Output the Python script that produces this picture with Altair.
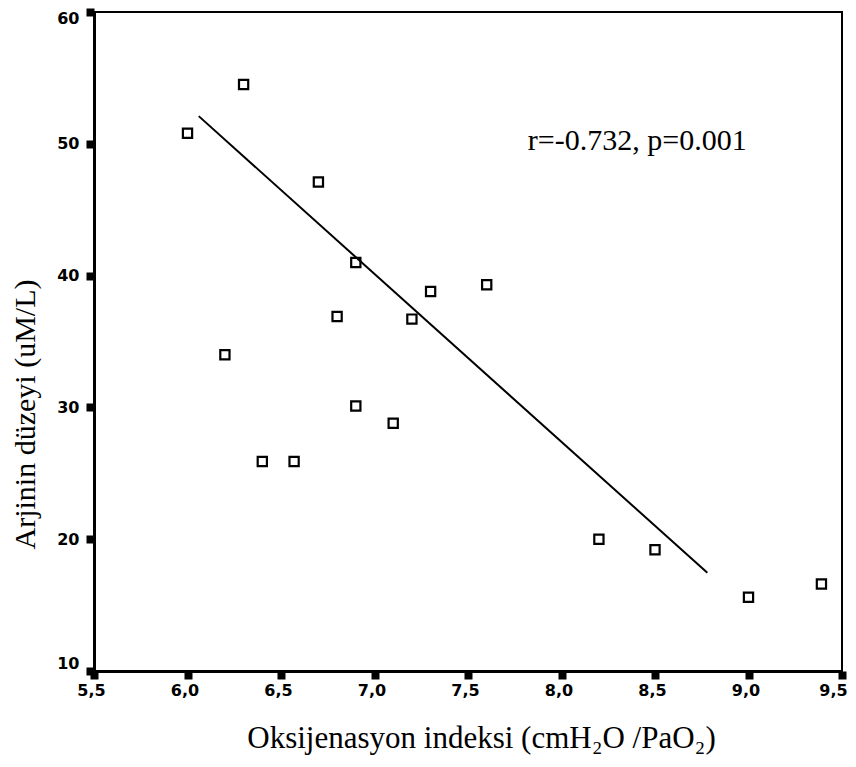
import altair as alt
import pandas as pd

# Scatter data
oksijenasyon = [6.0, 6.3, 6.7, 6.9, 6.8, 7.2, 6.2, 7.3, 7.6, 6.4, 6.57, 6.9, 7.1, 8.2, 8.5, 9.0, 9.39]
arjinin = [50.8, 54.5, 47.1, 41.0, 36.9, 36.7, 34.0, 38.8, 39.3, 25.9, 25.9, 30.1, 28.8, 20.0, 19.2, 15.6, 16.6]

# Fitted line end points
fit_x = [6.06, 8.78]
fit_y = [52.1, 17.45]

# Annotation
annot_x = [7.82]
annot_y = [50.2]
annot_text = ["r=-0.732, p=0.001"]

x_ticks = [5.5, 6.0, 6.5, 7.0, 7.5, 8.0, 8.5, 9.0, 9.5]
y_ticks = [10, 20, 30, 40, 50, 60]

pts = pd.DataFrame({"x": oksijenasyon, "y": arjinin})
fit = pd.DataFrame({"x": fit_x, "y": fit_y})
ann = pd.DataFrame({"x": annot_x, "y": annot_y, "t": annot_text})

xscale = alt.Scale(domain=[5.5, 9.5], nice=False, zero=False)
yscale = alt.Scale(domain=[10, 60], nice=False, zero=False)

xaxis = alt.Axis(
    values=x_ticks,
    labelExpr="replace(format(datum.value, '.1f'), '.', ',')",
    labelFlush=False,
    labelOffset={"condition": {"test": "datum.value === 9.5", "value": -9}, "value": -3},
    title="Oksijenasyon indeksi (cmH₂O /PaO₂)",
    titleX=387, titleY=67, titleBaseline="middle", titleAlign="center",
    titleFont="Liberation Serif", titleFontSize=31, titleFontWeight="normal",
    titleColor="black",
    labelFont="DejaVu Sans", labelFontSize=16, labelFontWeight="bold",
    labelColor="black", labelPadding=3,
    tickSize=8, tickWidth=8, tickColor="black",
    domainColor="black", domainWidth=3, grid=False,
)
yaxis = alt.Axis(
    values=y_ticks,
    format="d",
    title="Arjinin düzeyi (uM/L)",
    titleX=-69, titleY=402, titleAngle=-90, titleBaseline="middle", titleAlign="center",
    titleFont="Liberation Serif", titleFontSize=30, titleFontWeight="normal",
    titleColor="black",
    labelFont="DejaVu Sans", labelFontSize=16, labelFontWeight="bold",
    labelColor="black", labelPadding=7,
    labelBaseline={"condition": {"test": "datum.value === 10", "value": "bottom"}, "value": "middle"},
    labelOffset={"condition": {"test": "datum.value === 60", "value": 6}, "value": 0},
    tickSize=8, tickWidth=8, tickColor="black",
    domainColor="black", domainWidth=3, grid=False,
)

points = alt.Chart(pts).mark_point(
    shape="square", filled=False, size=85, stroke="black", strokeWidth=2.2, opacity=1
).encode(
    x=alt.X("x:Q", scale=xscale, axis=xaxis),
    y=alt.Y("y:Q", scale=yscale, axis=yaxis),
)

line = alt.Chart(fit).mark_line(color="black", strokeWidth=2).encode(
    x=alt.X("x:Q", scale=xscale),
    y=alt.Y("y:Q", scale=yscale),
)

text = alt.Chart(ann).mark_text(
    font="Liberation Serif", fontSize=30, align="left", baseline="middle", color="black"
).encode(
    x=alt.X("x:Q", scale=xscale),
    y=alt.Y("y:Q", scale=yscale),
    text="t:N",
)

chart = alt.layer(line, points, text).properties(
    width=748,
    height=659,
    autosize=alt.AutoSizeParams(type="none"),
    padding={"left": 86, "top": 4, "right": 6, "bottom": 88},
    background="white",
).configure_view(stroke="black", strokeWidth=2)

chart.save("out.html", embed_options={"renderer": "svg", "actions": False})
